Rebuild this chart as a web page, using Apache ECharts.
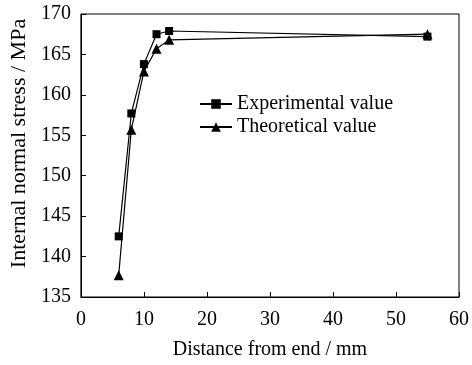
<!DOCTYPE html>
<html>
<head>
<meta charset="utf-8">
<script src="https://cdn.jsdelivr.net/npm/echarts@6/dist/echarts.min.js"></script>
<style>
  html, body { margin: 0; padding: 0; background: #fff; }
  #chart { width: 472px; height: 365px; }
</style>
</head>
<body>
<div id="chart"></div>
<script>
// distance from end (mm)
var distance = [6, 8, 10, 12, 14, 55];
var experimental = [142.5, 157.7, 163.8, 167.5, 167.9, 167.2];
var theoretical = [137.7, 155.7, 162.9, 165.7, 166.8, 167.5];

var font = 'Liberation Serif';

function pairs(ys) {
    return distance.map(function (x, i) {
        return [x, ys[i]];
    });
}

var chart = echarts.init(document.getElementById('chart'));
var option = {
    animation: false,
    textStyle: { fontFamily: font, color: '#000' },
    grid: {
        left: 80,
        right: 13,
        top: 14,
        bottom: 67,
        show: true,
        borderColor: '#000',
        borderWidth: 1
    },
    legend: {
        orient: 'vertical',
        left: 194,
        top: 89,
        itemWidth: 32,
        itemHeight: 12,
        itemGap: 3,
        textStyle: { fontFamily: font, fontSize: 20, color: '#000' },
        data: ['Experimental value', 'Theoretical value']
    },
    xAxis: {
        type: 'value',
        min: 0,
        max: 60,
        interval: 10,
        name: 'Distance from end / mm',
        nameLocation: 'middle',
        nameGap: 43,
        nameTextStyle: { fontFamily: font, fontSize: 20, color: '#000' },
        axisLine: { show: true, lineStyle: { color: '#000', width: 1 } },
        axisTick: { inside: true, length: 5, lineStyle: { color: '#000' } },
        axisLabel: { fontFamily: font, fontSize: 20, color: '#000', margin: 13 },
        splitLine: { show: false }
    },
    yAxis: {
        type: 'value',
        min: 135,
        max: 170,
        interval: 5,
        name: 'Internal normal stress / MPa',
        nameLocation: 'middle',
        nameGap: 50,
        nameTextStyle: { fontFamily: font, fontSize: 22, color: '#000', padding: [0, 0, 0, 24] },
        axisLine: { show: true, lineStyle: { color: '#000', width: 1 } },
        axisTick: { inside: true, length: 5, lineStyle: { color: '#000' } },
        axisLabel: { fontFamily: font, fontSize: 20, color: '#000', margin: 10 },
        splitLine: { show: false }
    },
    series: [
        {
            name: 'Experimental value',
            type: 'line',
            data: pairs(experimental),
            symbol: 'rect',
            symbolSize: 8,
            itemStyle: { color: '#000' },
            lineStyle: { color: '#000', width: 1.2 }
        },
        {
            name: 'Theoretical value',
            type: 'line',
            data: pairs(theoretical),
            symbol: 'triangle',
            symbolSize: 10,
            itemStyle: { color: '#000' },
            lineStyle: { color: '#000', width: 1.2 }
        }
    ]
};
chart.setOption(option);
</script>
</body>
</html>
